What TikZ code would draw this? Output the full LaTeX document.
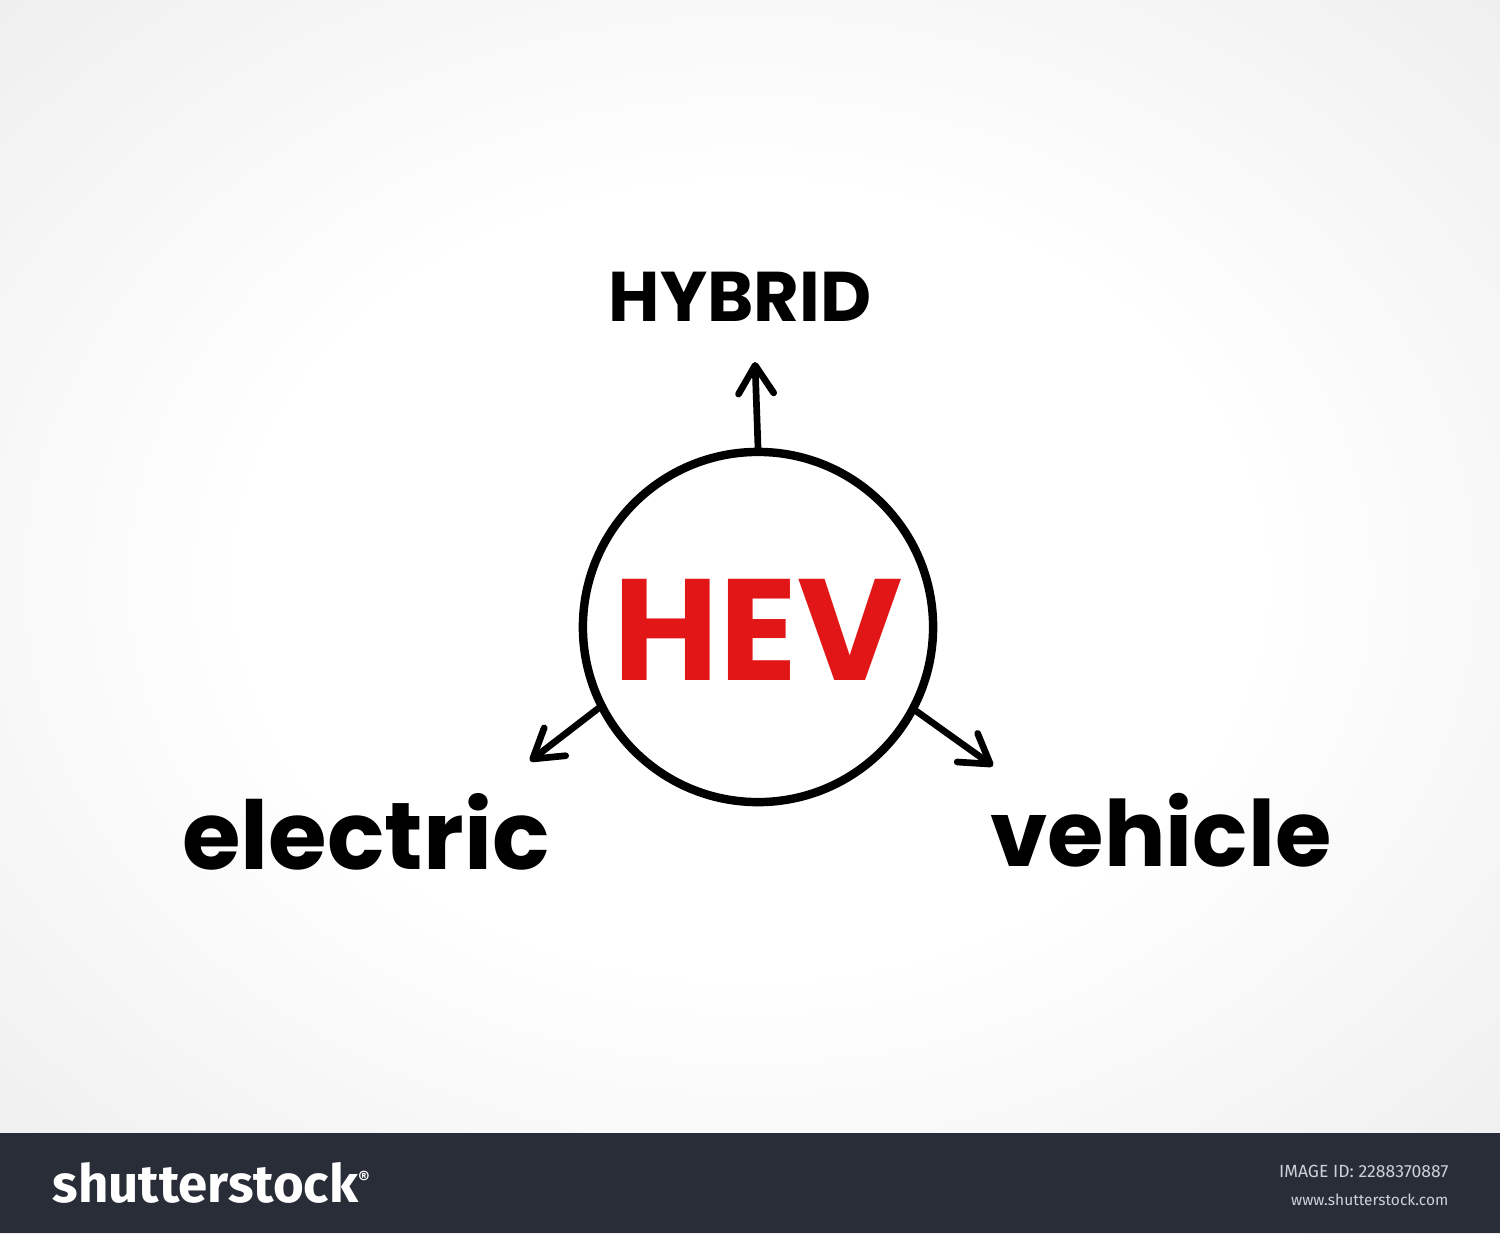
\documentclass[tikz,border=0pt]{standalone}
\usepackage{fontspec}
\setmainfont{Poppins}
\newfontfamily\footfont{Fira Sans}
\usetikzlibrary{arrows.meta}
\definecolor{hevred}{RGB}{226,22,22}
\definecolor{footbar}{RGB}{40,45,56}
\definecolor{footgray}{RGB}{205,208,214}
\pgfdeclareradialshading{bgglow}{\pgfpoint{0bp}{0bp}}{color(0bp)=(white); color(14bp)=(white); color(36bp)=(black!9); color(50bp)=(black!14)}
\tikzset{
  word/.style={font=\bfseries, text=black, inner sep=0pt},
  arr/.style={line width=1.9pt, line cap=round, -{Straight Barb[length=8pt,width=10pt,round]}}
}

\begin{document}
\begin{tikzpicture}[x=0.01cm,y=-0.01cm]
     % background
      \useasboundingbox (0,0) rectangle (1500,1233);
      \shade[shading=bgglow] (-150,-120) rectangle (1650,1280);

      % draw center circle
      \node[circle, draw, line width=2.4pt, minimum size=3.5cm, inner sep=0pt] (hev) at (758,627) {};
      \node[font=\bfseries\fontsize{41}{41}\selectfont, text=hevred, inner sep=0pt] (hevtext) at (758,630) {HEV};

      % draw words
      \node[word, font=\bfseries\fontsize{20}{20}\selectfont] (hybrid) at (740,297) {HYBRID};
      \node[word, font=\bfseries\fontsize{27}{27}\selectfont] (electric) at (366,832) {electric};
      \node[word, font=\bfseries\fontsize{26}{26}\selectfont] (vehicle) at (1161,830) {vehicle};

      % arrow tips
      \coordinate (tiphyb) at (755,362);
      \coordinate (tipele) at (530,761);
      \coordinate (tipveh) at (993,766);

      % draw arrows
      \draw[arr] (hev.north) -- (tiphyb);
      \draw[arr] (hev.207) -- (tipele);
      \draw[arr] (hev.-28) -- (tipveh);

      % footer
      \fill[footbar] (0,1133) rectangle (1500,1233);
      \node[anchor=west, text=white, inner sep=0pt, font=\footfont\bfseries\fontsize{15}{15}\selectfont] (logo) at (52,1183) {shutterstock\textsuperscript{\tiny®}};
      \node[anchor=east, text=footgray, inner sep=0pt, font=\footfont\fontsize{5}{5}\selectfont] (imgid) at (1449,1171) {IMAGE ID: 2288370887};
      \node[anchor=east, text=footgray, inner sep=0pt, font=\footfont\fontsize{4.4}{4.4}\selectfont] (site) at (1449,1200) {www.shutterstock.com};

\end{tikzpicture}
\end{document}
